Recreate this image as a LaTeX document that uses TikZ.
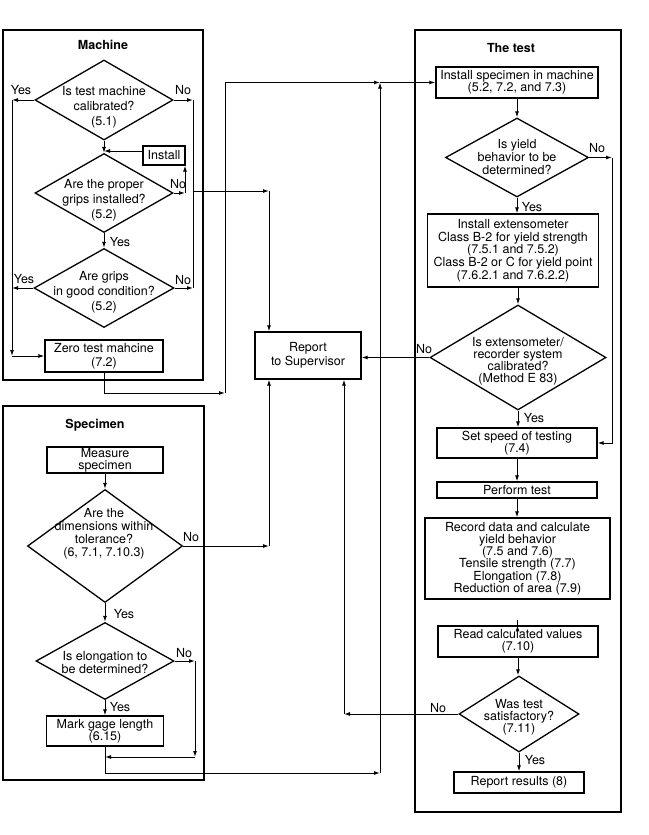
\documentclass[tikz,border=0pt]{standalone}
\usepackage{fontspec}
\setmainfont{TeX Gyre Heros}
\usetikzlibrary{arrows.meta,shapes.geometric,calc}
\begin{document}
\begin{tikzpicture}[x=1pt,y=-1pt,
  every node/.style={font=\fontsize{12.5}{13}\selectfont},
  box/.style={draw, line width=1.3pt, rectangle, inner sep=0pt, align=center},
  dia/.style={draw, line width=1.3pt, diamond, inner sep=0pt},
  dtxt/.style={align=center, inner sep=0pt},
  mtxt/.style={align=center, inner sep=0pt, font=\fontsize{12.5}{15}\selectfont},
  panel/.style={draw, line width=1.3pt, rectangle, inner sep=0pt},
  arr/.style={-{Latex[length=6pt,width=4pt]}, line width=1pt},
  ln/.style={line width=1pt},
  lbl/.style={inner sep=0pt},
  ttl/.style={font=\fontsize{12.5}{13}\selectfont\bfseries}
]
\useasboundingbox (0,0) rectangle (648,835);
\fill[white] (0,0) rectangle (648,835);

% ---------------- panels
\node[panel, minimum width=200, minimum height=350] (pm) at (103,205) {};
\node[panel, minimum width=201, minimum height=374] (ps) at (103.5,593) {};
\node[panel, minimum width=206, minimum height=782] (pt) at (518,421) {};

% ---------------- coordinates
\coordinate (mL) at (12,0);
\coordinate (mR) at (193,0);
\coordinate (mJ) at (193,191);
\coordinate (iX) at (185,0);
\coordinate (j1) at (104,151);
\coordinate (rA) at (269,0);
\coordinate (rB) at (344,0);
\coordinate (cV) at (225,393);
\coordinate (tV) at (380,0);
\coordinate (tR) at (612,0);
\coordinate (sX) at (195,0);
\coordinate (sJ) at (0,757);
\coordinate (sB) at (0,773);

% ---------------- Machine
\node[ttl] (mt) at (103,45) {Machine};
\node[dia, minimum width=138, minimum height=80] (d1) at (104,100) {};
\node[mtxt] (d1t) at (104,107) {Is test machine\\calibrated?\\(5.1)};
\node[dia, minimum width=138, minimum height=79] (d2) at (104,193) {};
\node[mtxt] (d2t) at (104,200) {Are the proper\\grips installed?\\(5.2)};
\node[dia, minimum width=140, minimum height=79] (d3) at (104,288) {};
\node[mtxt] (d3t) at (104,292) {Are grips\\in good condition?\\(5.2)};
\node[box, minimum width=42, minimum height=19] (inst) at (164,155.5) {Install};
\node[box, minimum width=118, minimum height=32, font=\fontsize{12.5}{14}\selectfont] (zero) at (104,356) {Zero test mahcine\\(7.2)};

% ---------------- Report
\node[box, minimum width=106, minimum height=47, font=\fontsize{12.5}{14}\selectfont] (rep) at (308,355.5) {Report\\to Supervisor};

% ---------------- Specimen
\node[ttl] (st) at (95,425) {Specimen};
\node[box, minimum width=116, minimum height=26, font=\fontsize{12.5}{12}\selectfont] (meas) at (105,460) {Measure\\specimen};
\node[dia, minimum width=155, minimum height=113] (d4) at (105,546) {};
\node[dtxt] (d4t) at (104,534) {Are the\\dimensions within\\tolerance?\\(6, 7.1, 7.10.3)};
\node[dia, minimum width=138, minimum height=77] (d5) at (105,661) {};
\node[dtxt] (d5t) at (105,663) {Is elongation to\\be determined?};
\node[box, minimum width=117, minimum height=30, font=\fontsize{12.5}{12}\selectfont] (mark) at (105,731) {Mark gage length\\(6.15)};

% ---------------- The test
\node[ttl] (tt) at (511,48) {The test};
\node[box, minimum width=162, minimum height=31, font=\fontsize{12.5}{12}\selectfont] (ins) at (517,82.5) {Install specimen in machine\\(5.2, 7.2, and 7.3)};
\node[dia, minimum width=143, minimum height=79] (d6) at (517,157.5) {};
\node[dtxt] (d6t) at (517,157) {Is yield\\behavior to be\\determined?};
\node[box, minimum width=171, minimum height=73, font=\fontsize{12.5}{12.7}\selectfont] (ext) at (513,250.5) {Install extensometer\\Class B-2 for yield strength\\(7.5.1 and 7.5.2)\\Class B-2 or C for yield point\\(7.6.2.1 and 7.6.2.2)};
\node[dia, minimum width=176, minimum height=105] (d7) at (518,357.5) {};
\node[dtxt, font=\fontsize{12.5}{12}\selectfont] (d7t) at (518,361) {Is extensometer/\\recorder system\\calibrated?\\(Method E 83)};
\node[box, minimum width=160, minimum height=30, font=\fontsize{12.5}{12}\selectfont] (speed) at (517,443) {Set speed of testing\\(7.4)};
\node[box, minimum width=160, minimum height=16] (perf) at (517,490) {Perform test};
\node[box, minimum width=185, minimum height=81, font=\fontsize{12.5}{12.2}\selectfont] (rec) at (517.5,558.5) {Record data and calculate\\yield behavior\\(7.5 and 7.6)\\Tensile strength (7.7)\\Elongation (7.8)\\Reduction of area (7.9)};
\node[box, minimum width=160, minimum height=31, font=\fontsize{12.5}{12}\selectfont] (read) at (518,641.5) {Read calculated values\\(7.10)};
\node[dia, minimum width=120, minimum height=76] (d8) at (519,714) {};
\node[dtxt, font=\fontsize{12.5}{12}\selectfont] (d8t) at (519,717) {Was test\\satisfactory?\\(7.11)};
\node[box, minimum width=130, minimum height=21] (res) at (519,782.5) {Report results (8)};

% ---------------- labels
\node[lbl] (l1) at (21,90) {Yes};
\node[lbl] (l2) at (183,90) {No};
\node[lbl] (l3) at (178,184) {No};
\node[lbl] (l4) at (120,242) {Yes};
\node[lbl] (l5) at (24,279) {Yes};
\node[lbl] (l6) at (183,280) {No};
\node[lbl] (l7) at (191,537) {No};
\node[lbl] (l8) at (124,614) {Yes};
\node[lbl] (l9) at (184,653) {No};
\node[lbl] (l10) at (120,707) {Yes};
\node[lbl] (l11) at (597,148) {No};
\node[lbl] (l12) at (532,207) {Yes};
\node[lbl] (l13) at (424,349) {No};
\node[lbl] (l14) at (534,418) {Yes};
\node[lbl] (l15) at (438,708) {No};
\node[lbl] (l16) at (535,760) {Yes};

% ---------------- Machine connectors
\draw[arr] (d1.south) -- (d2.north);
\draw[arr] (inst.west |- j1) -- (j1);
\draw[arr] (d2.south) -- (d3.north);
\draw[arr] (d2.east) -- (d2.east -| iX);
\draw[arr] (d2.east -| iX) -- (iX |- inst.south);
\draw[arr] (d1.east) -- (d1.east -| mR);
\draw[ln] (d1.east -| mR) -- (d3.east -| mR);
\draw[arr] (d3.east) -- (d3.east -| mR);
\draw[arr] (mJ) -- (mJ -| rA);
\draw[arr] (mJ -| rA) -- (rA |- rep.north);
\draw[arr] (d1.west) -- (d1.west -| mL);
\draw[arr] (d1.west -| mL) -- (mL |- zero.west);
\draw[arr] (mL |- zero.west) -- (zero.west);
\draw[arr] (d3.west) -- (d3.west -| mL);
\draw[arr] (zero.south) -- (zero.south |- cV) -- (cV);
\draw[arr] (cV) -- (cV |- ins.west) -- (ins.west -| tV);
\draw[arr] (ins.west -| tV) -- (ins.west);

% ---------------- Specimen connectors
\draw[arr] (meas.south) -- (d4.north);
\draw[arr] (d4.south) -- (d5.north);
\draw[arr] (d5.south) -- (mark.north);
\draw[arr] (d4.east) -- (d4.east -| rA);
\draw[arr] (d4.east -| rA) -- (rA |- rep.south);
\draw[arr] (d5.east) -- (d5.east -| sX);
\draw[arr] (d5.east -| sX) -- (sX |- sJ);
\draw[arr] (sX |- sJ) -- (mark.south |- sJ);
\draw[arr] (mark.south) -- (mark.south |- sB) -- (tV |- sB);
\draw[arr] (tV |- sB) -- (ins.west -| tV);

% ---------------- Test connectors
\draw[arr] (ins.south) -- (ins.south |- d6.north);
\draw[arr] (d6.south) -- (d6.south |- ext.north);
\draw[arr] (d7.north |- ext.south) -- (d7.north);
\draw[arr] (d7.south) -- (d7.south |- speed.north);
\draw[arr] (speed.south) -- (perf.north);
\draw[arr] (perf.south) -- (perf.south |- rec.north);
\draw[arr] (read.north -| rec.south) -- (rec.south |- read.north);
\draw[arr] (read.south) -- (read.south |- d8.north);
\draw[arr] (d8.south) -- (d8.south |- res.north);
\draw[arr] (d6.east) -- (d6.east -| tR);
\draw[arr] (d6.east -| tR) -- (tR |- speed.east) -- (speed.east);
\draw[arr] (d7.west) -- (d7.west -| rep.east);
\draw[arr] (d8.west) -- (d8.west -| rB);
\draw[arr] (d8.west -| rB) -- (rB |- rep.south);
\end{tikzpicture}
\end{document}
